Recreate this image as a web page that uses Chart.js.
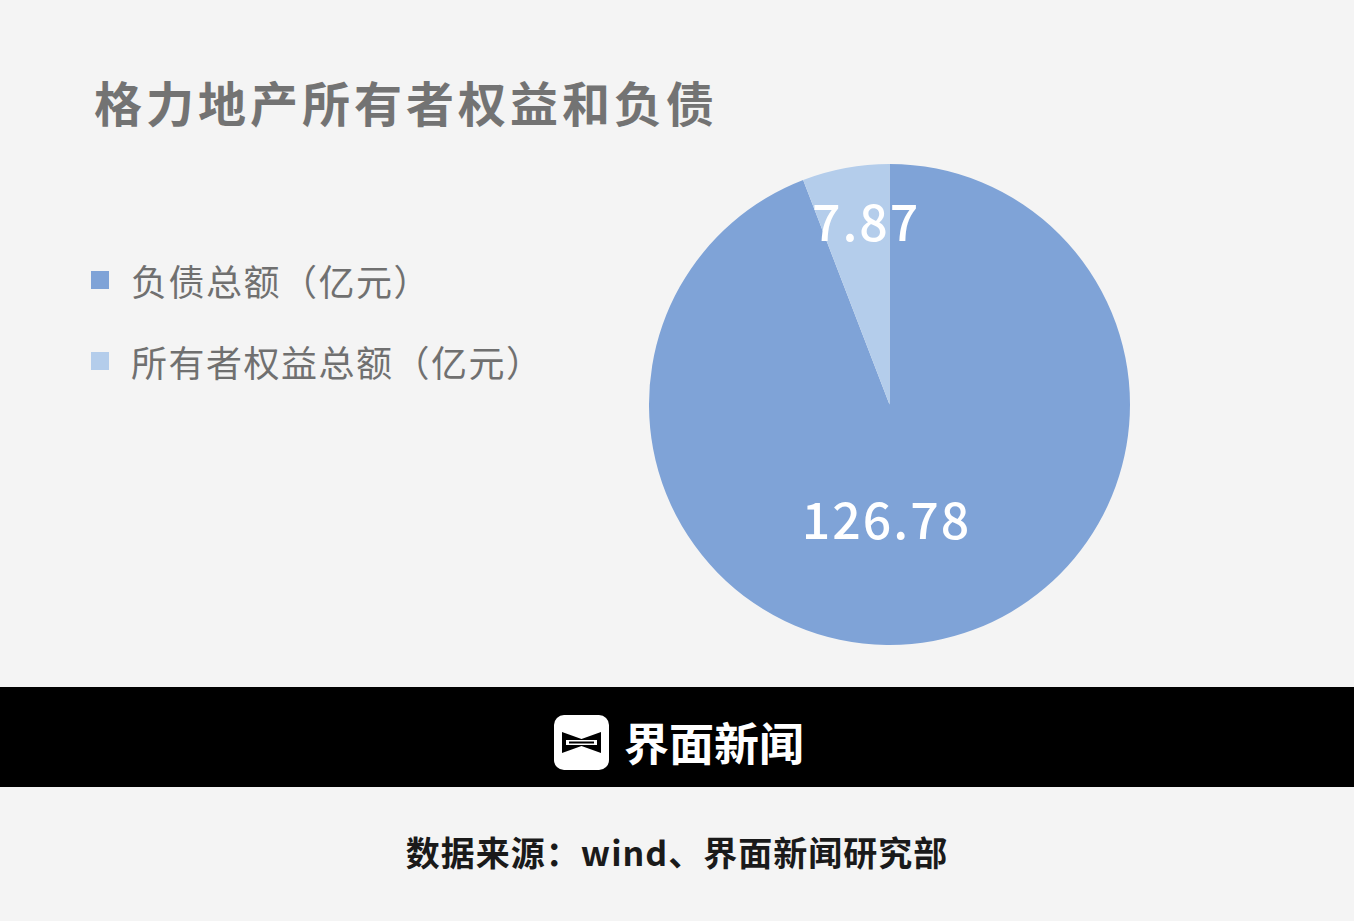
<!DOCTYPE html>
<html>
<head>
<meta charset="utf-8">
<script src="https://cdn.jsdelivr.net/npm/chart.js@4"></script>
<style>
  html, body { margin: 0; padding: 0; }
  body { width: 1354px; height: 921px; background: #f4f4f4; position: relative; overflow: hidden;
         font-family: "Noto Sans CJK SC", "Noto Sans", sans-serif; }
  #title { position: absolute; left: 94px; top: 66px; font-size: 48px; font-weight: 700; color: #737373; letter-spacing: 4px; }
  #legend { position: absolute; left: 91px; top: 253px; }
  .item { display: flex; align-items: center; font-size: 36px; color: #707070; height: 54px; margin-bottom: 27px; letter-spacing: 1.5px; }
  .sw { width: 18px; height: 18px; margin-right: 22px; }
  #pie { position: absolute; left: 649px; top: 164px; width: 481px; height: 481px; }
  #band { position: absolute; left: 0; top: 687px; width: 1354px; height: 100px; background: #000; }
  #logo { position: absolute; left: 554px; top: 715px; width: 55px; height: 55px; }
  #brand { position: absolute; left: 624px; top: 712px; font-size: 45px; font-weight: 700; color: #fff; line-height: 60px; }
  #source { position: absolute; left: 0; width: 1354px; top: 827px; text-align: center; font-size: 34px; font-weight: 700; color: #1a1a1a; letter-spacing: 1px; }
</style>
</head>
<body>
<div id="title">格力地产所有者权益和负债</div>
<div id="legend"></div>
<div id="pie"><canvas id="chart"></canvas></div>
<div id="band"></div>
<svg id="logo" viewBox="0 0 55 55">
  <rect x="0" y="0" width="55" height="55" rx="10" fill="#fff"/>
  <path d="M8 17 L27.5 24 L47 17 L47 38 L27.5 31 L8 38 Z" fill="#000"/>
  <rect x="12" y="25" width="31" height="5" fill="#fff"/>
  <rect x="15" y="26.5" width="25" height="2" fill="#000"/>
</svg>
<div id="brand">界面新闻</div>
<div id="source">数据来源：wind、界面新闻研究部</div>
<script>
// data
var categories = ['负债总额（亿元）', '所有者权益总额（亿元）'];
var values = [126.78, 7.87];
var colors = ['#7fa3d7', '#b4cdeb'];

// legend built from the arrays
var legend = document.getElementById('legend');
categories.forEach(function (c, i) {
  var row = document.createElement('div');
  row.className = 'item';
  row.innerHTML = '<span class="sw" style="background:' + colors[i] + '"></span>' + c;
  legend.appendChild(row);
});

// draws the values inside the slices
var labelFrac = [0.5, 0.76];
var labelShift = [-25, 10];
var sliceLabels = {
  id: 'sliceLabels',
  afterDatasetsDraw: function (chart) {
    var ctx = chart.ctx;
    var meta = chart.getDatasetMeta(0);
    ctx.save();
    ctx.fillStyle = '#fff';
    ctx.font = '500 50px "Noto Sans CJK SC", "Noto Sans", sans-serif';
    ctx.letterSpacing = '2px';
    ctx.textAlign = 'center';
    ctx.textBaseline = 'middle';
    meta.data.forEach(function (arc, i) {
      var mid = (arc.startAngle + arc.endAngle) / 2;
      var r = arc.outerRadius * labelFrac[i];
      var x = arc.x + Math.cos(mid) * r + labelShift[i];
      var y = arc.y + Math.sin(mid) * r - 3;
      ctx.fillText(values[i].toFixed(2), x, y);
    });
    ctx.restore();
  }
};

var ctx = document.getElementById('chart').getContext('2d');
var chart = new Chart(ctx, {
  type: 'pie',
  data: {
    labels: categories,
    datasets: [{
      data: values,
      backgroundColor: colors,
      borderWidth: 0
    }]
  },
  options: {
    responsive: true,
    maintainAspectRatio: false,
    animation: false,
    layout: { padding: 0 },
    plugins: {
      legend: { display: false },
      tooltip: { enabled: false }
    }
  },
  plugins: [sliceLabels]
});
</script>
</body>
</html>
